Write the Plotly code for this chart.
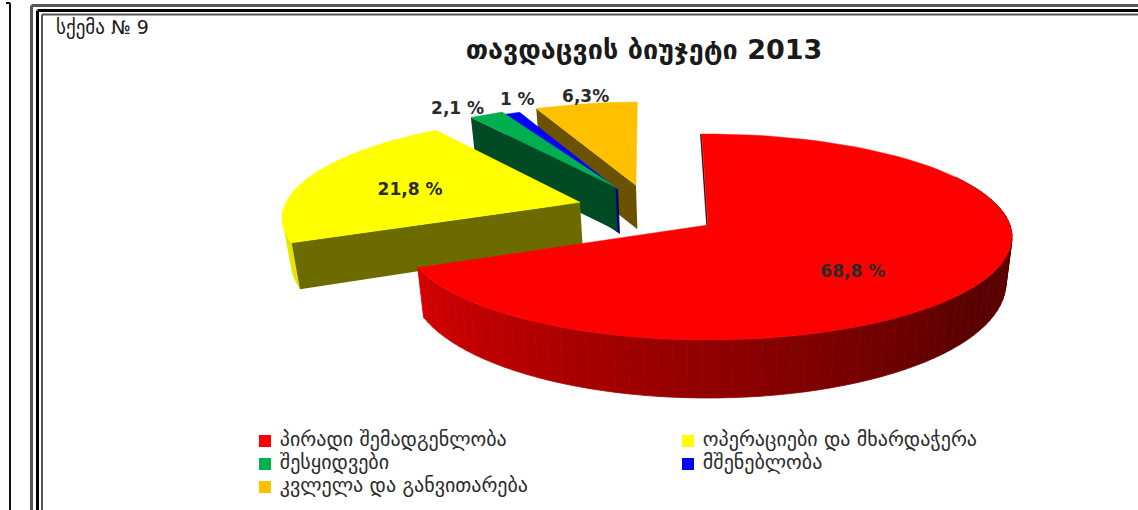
import numpy as np
import plotly.graph_objects as go

# ---- data ----
CATEGORIES = ["პირადი შემადგენლობა", "ოპერაციები და მხარდაჭერა", "შესყიდვები", "მშენებლობა", "კვლელა და განვითარება"]
VALUES = [68.8, 21.8, 2.1, 1.0, 6.3]
VALUE_LABELS = ["68,8 %", "21,8 %", "2,1 %", "1 %", "6,3%"]
TITLE = "თავდაცვის ბიუჯეტი 2013"
CAPTION = "სქემა № 9"

# ---- style ----
TOP_COLORS = ["#ff0000", "#ffff00", "#00b050", "#0000ff", "#ffc000"]
FACE_COLORS = ["#4a0000", "#6b6b00", "#004a24", "#000080", "#6b5200"]
EXPLODE = [(0.0, 0.0), (-0.435, 0.229), (-0.32, 0.39), (-0.31, 0.36), (-0.25, 0.41)]
LABEL_R = [0.56, 0.62, 1.1, 1.1, 1.1]
LABEL_SHIFT = [(-3, 16), (0, 4), (-17, 2), (15, -6), (4, 1)]
DRAW_ORDER = [4, 3, 2, 1, 0]
START_ANGLE = -1.3
LEGEND_COLS = [265, 688]
LEGEND_ROWS = [441, 464, 487]
FONT = "DejaVu Sans"
CX, CY, RX, RY, K = 708.0, 225.0, 302.0, 101.6, 0.1165


def project(X, Y, low=False):
    """Perspective view of the unit-radius pie disc, in pixel-like axis units."""
    X, Y = np.asarray(X, float), np.asarray(Y, float)
    w = 1 + K * Y
    px, py = CX + X * RX / w, CY - Y * RY / w
    if low:
        px = CX + (px - CX) * 0.98
        py = py + 44 - 14 * np.minimum(Y, 0)
    return px, py


def arc(a0, a1, dx, dy, n=90):
    t = np.radians(np.linspace(a0, a1, n))
    return dx + np.sin(t), dy + np.cos(t)


def poly(xs, ys, color, width=0.0):
    return go.Scatter(x=xs, y=ys, mode="lines", fill="toself", fillcolor=color,
                      line=dict(color=color, width=width), hoverinfo="skip", showlegend=False)


fig = go.Figure()
angles = START_ANGLE + np.cumsum([0.0] + VALUES) * 3.6

for i in DRAW_ORDER:
    a0, a1 = angles[i], angles[i + 1]
    dx, dy = EXPLODE[i]
    ax, ay = arc(a0, a1, dx, dy)
    if i == 0:
        # shaded outer wall, in narrow strips
        edges = np.linspace(60, a1, 75)
        for s0, s1 in zip(edges[:-1], edges[1:]):
            sx, sy = arc(s0, s1, dx, dy, 4)
            ux, uy = project(sx, sy)
            lx, ly = project(sx, sy, low=True)
            f = np.clip((s0 - 125) / (a1 - 125), 0, 1)
            col = "rgb(%d,0,0)" % (90 + 125 * f)
            fig.add_trace(poly(np.r_[ux, lx[::-1], ux[0]], np.r_[uy, ly[::-1], uy[0]], col, 0.8))
    if i == 1:
        sx, sy = arc(a0, a0 + 8, dx, dy, 10)
        ux, uy = project(sx, sy)
        lx, ly = project(sx, sy, low=True)
        fig.add_trace(poly(np.r_[ux, lx[::-1], ux[0]], np.r_[uy, ly[::-1], uy[0]], "#e6e600"))
    # radial side face that faces the viewer
    if i > 0:
        ex, ey = project([dx, ax[0]], [dy, ay[0]])
        fx, fy = project([dx, ax[0]], [dy, ay[0]], low=True)
        fig.add_trace(poly(np.r_[ex, fx[::-1], ex[0]], np.r_[ey, fy[::-1], ey[0]], FACE_COLORS[i]))
    # top surface
    px, py = project(np.r_[dx, ax, dx], np.r_[dy, ay, dy])
    fig.add_trace(poly(px, py, TOP_COLORS[i], 0.5))
    if i == 0:
        ex, ey = project([dx, ax[0]], [dy, ay[0]])
        fig.add_trace(go.Scatter(x=ex - 1, y=ey, mode="lines", line=dict(color="#600000", width=1.5),
                                 hoverinfo="skip", showlegend=False))

# value labels
for i, lab in enumerate(VALUE_LABELS):
    mid = np.radians((angles[i] + angles[i + 1]) / 2)
    lx, ly = project(EXPLODE[i][0] + LABEL_R[i] * np.sin(mid), EXPLODE[i][1] + LABEL_R[i] * np.cos(mid))
    fig.add_trace(go.Scatter(x=[lx + LABEL_SHIFT[i][0]], y=[ly + LABEL_SHIFT[i][1]], mode="text", text=[f"<b>{lab}</b>"],
                             textposition="middle center", textfont=dict(family=FONT, size=17, color="#2b2b2b"),
                             hoverinfo="skip", showlegend=False))

# legend entries, laid out row by row in two columns
for k, (name, col) in enumerate(zip(CATEGORIES, TOP_COLORS)):
    fig.add_trace(go.Scatter(x=[LEGEND_COLS[k % 2]], y=[LEGEND_ROWS[k // 2]], mode="markers+text", name=name,
                             text=["\u00a0" + name], textposition="middle right",
                             textfont=dict(family=FONT, size=20, color="#2b2b2b"),
                             marker=dict(symbol="square", size=12, color=col, line=dict(width=0)),
                             hoverinfo="skip", showlegend=False, cliponaxis=False))

shapes = []
def frame(x0, y0, color, w):
    shapes.append(dict(type="line", x0=x0, x1=x0, y0=y0, y1=510, line=dict(color=color, width=w)))
    shapes.append(dict(type="line", x0=x0, x1=1138, y0=y0, y1=y0, line=dict(color=color, width=w)))
frame(31.5, 5.5, "#555555", 3)
frame(37.5, 10.5, "#000000", 3)
frame(42, 14.5, "#555555", 2)
shapes.append(dict(type="line", x0=10, x1=10, y0=3, y1=510, line=dict(color="#111111", width=2)))
shapes.append(dict(type="line", x0=6, x1=10, y0=3, y1=3, line=dict(color="#111111", width=2)))

fig.update_layout(
    width=1138, height=510, margin=dict(l=0, r=0, t=0, b=0, autoexpand=False), showlegend=False,
    paper_bgcolor="white", plot_bgcolor="white", shapes=shapes,
    xaxis=dict(range=[0, 1138], visible=False, fixedrange=True),
    yaxis=dict(range=[510, 0], visible=False, fixedrange=True),
    font=dict(family=FONT, color="#2b2b2b"),
    title=dict(text=f"<b>{TITLE}</b>", x=644 / 1138, y=1 - 50 / 510, xanchor="center", yanchor="middle",
               font=dict(family=FONT, size=27, color="#1a1a1a")),
    annotations=[dict(text=CAPTION, xref="paper", yref="paper", x=54 / 1138, y=1 - 27 / 510, xanchor="left",
                      yanchor="middle", showarrow=False, font=dict(family=FONT, size=19, color="#1a1a1a"))],
)
fig.write_html("out.html", config={"displayModeBar": False},
               post_script="document.body.style.margin='0';window.dispatchEvent(new Event('resize'));")
